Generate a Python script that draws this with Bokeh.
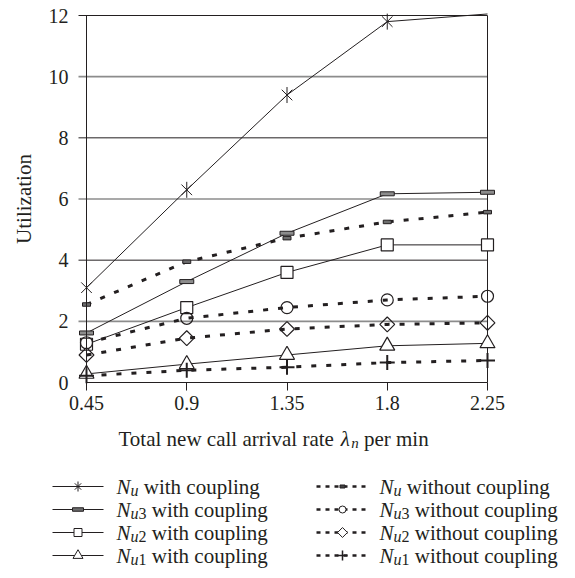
import math
from bokeh.plotting import figure
from bokeh.models import Range1d, FixedTicker
from bokeh.core.properties import value
from bokeh.embed import file_html
from bokeh.resources import INLINE

# ---------------- data ----------------
X = [0.45, 0.9, 1.35, 1.8, 2.25]
X_LABELS = ["0.45", "0.9", "1.35", "1.8", "2.25"]
Y_TICKS = [0, 2, 4, 6, 8, 10, 12]

NU_C = [3.1, 6.3, 9.4, 11.8, 12.05]     # N_u with coupling (last point at the top edge)
NU3_C = [1.62, 3.3, 4.88, 6.17, 6.22]    # N_u3 with coupling
NU2_C = [1.25, 2.45, 3.6, 4.5, 4.5]      # N_u2 with coupling
NU1_C = [0.28, 0.6, 0.9, 1.2, 1.28]      # N_u1 with coupling
NU_NC = [2.55, 3.95, 4.72, 5.25, 5.57]   # N_u without coupling
NU3_NC = [1.3, 2.1, 2.45, 2.7, 2.82]     # N_u3 without coupling
NU2_NC = [0.9, 1.45, 1.75, 1.9, 1.95]    # N_u2 without coupling
NU1_NC = [0.22, 0.4, 0.5, 0.65, 0.72]    # N_u1 without coupling

LEG_DIGITS = ["", "3", "2", "1"]
LEG_LEFT = "with coupling"
LEG_RIGHT = "without coupling"
Y_LABEL = "Utilization"
X_LABEL_PARTS = ["Total new call arrival rate", "\u03bb", "n", "per min"]

FONT = "Liberation Serif"
INK = "#231f20"
GRAY = "#8c8c8c"

# ---------------- geometry (picture pixels -> data) ----------------
W, H = 567, 570
PX_X0, PX_X1 = 86, 487      # x of first / last category
PX_Y0, PX_Y12 = 382, 15     # y of 0 / 12
SX = (PX_X1 - PX_X0) / (X[-1] - X[0])
SY = (PX_Y0 - PX_Y12) / (Y_TICKS[-1] - Y_TICKS[0])
XS = X[0] - PX_X0 / SX
XE = XS + W / SX
YT = Y_TICKS[-1] + PX_Y12 / SY
YB = YT - H / SY

def gx(px):
    return XS + px / SX

def gy(py):
    return YT - py / SY

p = figure(width=W, height=H,
           x_range=Range1d(XS, XE), y_range=Range1d(YB, YT),
           output_backend="svg", toolbar_location=None, min_border=0)
p.grid.visible = False
p.outline_line_color = None
p.background_fill_color = "white"
p.border_fill_color = "white"

xa = p.xaxis[0]
xa.fixed_location = 0
xa.ticker = FixedTicker(ticks=X)
xa.major_label_overrides = {x: l for x, l in zip(X, X_LABELS)}
xa.bounds = (X[0], X[-1])
xa.axis_line_color = INK
xa.axis_line_width = 1
xa.major_tick_out = 8
xa.major_tick_in = 0
xa.major_tick_line_color = INK
xa.minor_tick_line_color = None
xa.major_label_text_font = FONT
xa.major_label_text_font_size = "20px"
xa.major_label_text_color = INK
xa.major_label_standoff = 5

ya = p.yaxis[0]
ya.fixed_location = X[0]
ya.ticker = FixedTicker(ticks=Y_TICKS)
ya.bounds = (Y_TICKS[0], Y_TICKS[-1])
ya.axis_line_color = INK
ya.axis_line_width = 1
ya.major_tick_line_color = None
ya.minor_tick_line_color = None
ya.major_tick_out = 0
ya.major_tick_in = 0
ya.major_label_text_font = FONT
ya.major_label_text_font_size = "20px"
ya.major_label_text_color = INK
ya.major_label_standoff = 18
ya.axis_label = Y_LABEL
ya.axis_label_text_font = FONT
ya.axis_label_text_font_size = "21px"
ya.axis_label_text_font_style = "normal"
ya.axis_label_text_color = INK
ya.axis_label_standoff = 10

# horizontal gridlines (they also form the small tick stubs left of the axis)
dark = [t for t in Y_TICKS if t > 0 and t % 4 == 0]
light = [t for t in Y_TICKS if t > 0 and t % 4 == 2]
gx0 = X[0] - 8 / SX
p.segment(x0=gx0, y0=light, x1=X[-1], y1=light, line_color=GRAY, line_width=1.6)
p.segment(x0=gx0, y0=dark, x1=X[-1], y1=dark, line_color=INK, line_width=1)
# right border
p.segment(x0=[X[-1]], y0=[Y_TICKS[0]], x1=[X[-1]], y1=[Y_TICKS[-1]], line_color=INK, line_width=1)

DASH = "5 10"
for s in (NU_NC, NU3_NC, NU2_NC, NU1_NC):
    p.line(X, s, line_color=INK, line_width=3, line_dash=DASH)
for s in (NU_C, NU3_C, NU2_C, NU1_C):
    p.line(X, s, line_color=INK, line_width=1)

# markers
p.scatter(X[:4], NU_C[:4], marker="x", size=15, line_color=INK, line_width=1)
p.scatter(X[:4], NU_C[:4], marker="dash", angle=math.pi / 2, size=16, line_color=INK, line_width=1)
p.rect(X, NU3_C, width=14, height=4, width_units="screen", height_units="screen",
       fill_color=GRAY, line_color=INK, line_width=1)
p.rect(X, NU_NC, width=8, height=3.5, width_units="screen", height_units="screen",
       fill_color="#6e6e6e", line_color=INK, line_width=1)
p.scatter(X, NU2_C, marker="square", size=12, fill_color="white", line_color=INK, line_width=1.2)
p.scatter(X, NU3_NC, marker="circle", size=12, fill_color=None, line_color=INK, line_width=1.2)
p.scatter(X, NU2_NC, marker="square", angle=math.pi / 4, size=10.5, fill_color=None,
          line_color=INK, line_width=1.2)
p.scatter(X, NU1_C, marker="triangle", size=15, fill_color="white", line_color=INK, line_width=1.2)
p.scatter(X, NU1_NC, marker="cross", size=15, line_color=INK, line_width=2)

# ---------------- x label + legend ----------------
def txt(px, py, t, size, style="normal"):
    p.text(x=[gx(px)], y=[gy(py)], text=[t], text_font=value(FONT), text_font_size=value(size),
           text_font_style=style, text_color=INK, text_align="left",
           text_baseline="alphabetic")

bx, by = 118, 438
txt(bx, by, X_LABEL_PARTS[0], "21px")
lx = bx + 222.2
txt(lx, by, X_LABEL_PARTS[1], "21px", "italic")
txt(lx + 10.5, by + 4, X_LABEL_PARTS[2], "15px", "italic")
txt(lx + 10.5 + 7.5 + 5.25, by, X_LABEL_PARTS[3], "21px")

ROW0, STEP = 486, 23
rows = [ROW0 + i * STEP for i in range(4)]
L_X0, L_X1, L_M, L_T = 52, 103, 77.5, 116
R_X0, R_X1, R_M, R_T = 316, 368, 342, 379

for i, ry in enumerate(rows):
    p.line([gx(L_X0), gx(L_X1)], [gy(ry)] * 2, line_color=INK, line_width=1)
    p.line([gx(R_X0), gx(R_X1)], [gy(ry)] * 2, line_color=INK, line_width=2.5, line_dash="4 5")
    for xt, suffix in ((L_T, LEG_LEFT), (R_T, LEG_RIGHT)):
        b = ry
        txt(xt, b, "N", "21px", "italic")
        txt(xt + 14.0, b + 4, "u", "16px", "italic")
        adv = 14.0 + 8.0
        if LEG_DIGITS[i]:
            txt(xt + adv, b + 4, LEG_DIGITS[i], "16px")
            adv += 8.0
        txt(xt + adv + 5.25, b, suffix, "21px")

# legend markers
lm, rm = gx(L_M), gx(R_M)
p.scatter([lm], [gy(rows[0])], marker="x", size=9, line_color=INK, line_width=1)
p.scatter([lm], [gy(rows[0])], marker="dash", angle=math.pi / 2, size=10, line_color=INK, line_width=1)
p.rect([lm], [gy(rows[1])], width=11, height=3.5, width_units="screen", height_units="screen",
       fill_color="#6e6e6e", line_color=INK, line_width=1)
p.scatter([lm], [gy(rows[2])], marker="square", size=8, fill_color="white", line_color=INK, line_width=1)
p.scatter([lm], [gy(rows[3])], marker="triangle", size=10, fill_color="white", line_color=INK, line_width=1)
p.rect([rm], [gy(rows[0])], width=5, height=3, width_units="screen", height_units="screen",
       fill_color="#444444", line_color=INK, line_width=1)
p.scatter([rm], [gy(rows[1])], marker="circle", size=7, fill_color="white", line_color=INK, line_width=1)
p.scatter([rm], [gy(rows[2])], marker="square", angle=math.pi / 4, size=7, fill_color="white",
          line_color=INK, line_width=1)
p.scatter([rm], [gy(rows[3])], marker="cross", size=10, line_color=INK, line_width=1.5)

open("out.html", "w").write(file_html(p, INLINE))
